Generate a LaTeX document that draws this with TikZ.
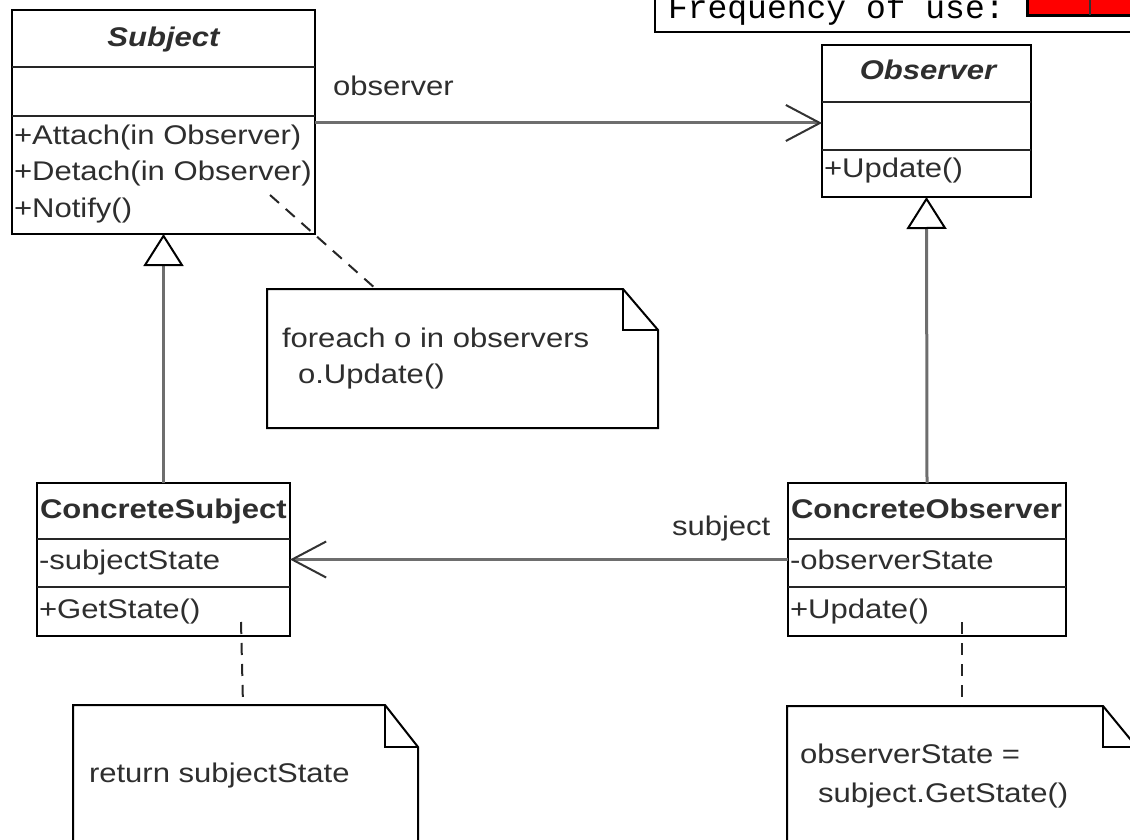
\documentclass[tikz,border=0pt]{standalone}
\usepackage{fontspec}
\setmainfont{Liberation Sans}[FakeStretch=1.15]
\newfontfamily\pixfont{Liberation Mono}
\usetikzlibrary{arrows.meta,calc}
\definecolor{txt}{HTML}{2E2E2E}
\definecolor{conn}{HTML}{6E6E6E}
\begin{document}
\begin{tikzpicture}[x=1pt,y=-1pt,
  every node/.style={font=\fontsize{27}{32}\selectfont, text=txt, inner sep=0pt, outer sep=0pt},
  classbox/.style={draw=black, line width=2pt, fill=white, anchor=north west},
  divider/.style={draw=black!85, line width=2.5pt},
  lbl/.style={anchor=base west},
  assoc/.style={draw=conn, line width=3pt, -{Straight Barb[length=34pt,width=36pt,line width=2pt,color=black!80]}},
  inh/.style={draw=conn, line width=3pt, -{Triangle[length=32pt,width=40pt,line width=2pt,color=black,fill=white]}},
  notelink/.style={draw=black!85, line width=2pt, dash pattern=on 12pt off 9pt},
  notebox/.style={draw=black, line width=2pt, fill=white, line join=miter}
]
\useasboundingbox (0,0) rectangle (1130,840);
\clip (0,0) rectangle (1130,840);

% Frequency of use box (cut off at top)
\draw[line width=2pt, fill=white] (655,-10) -- (655,32) -- (1140,32);
\node[lbl, font=\pixfont\fontsize{33}{33}\selectfont, text=black] (freq) at (668,19) {Frequency of use:};
\fill[red] (1027,-5) rectangle (1135,15);
\draw[black, line width=3pt] (1027,-5) -- (1027,16) -- (1135,16);
\draw[black!80, line width=2pt] (1090,-5) -- (1090,15);

% Subject
\node[classbox, minimum width=303pt, minimum height=224pt] (subj) at (12,10) {};
\draw[divider] (subj.west |- 0,67) -- (subj.east |- 0,67);
\draw[divider] (subj.west |- 0,116) -- (subj.east |- 0,116);
\node[anchor=base, font=\fontsize{27}{32}\selectfont\bfseries\itshape] (subjT) at (163.5,47) {Subject};
\node[lbl] (sm1) at (14,145) {+Attach(in Observer)};
\node[lbl] (sm2) at (14,181) {+Detach(in Observer)};
\node[lbl] (sm3) at (14,217) {+Notify()};

% Observer
\node[classbox, minimum width=209pt, minimum height=152pt] (obs) at (822,45) {};
\draw[divider] (obs.west |- 0,102) -- (obs.east |- 0,102);
\draw[divider] (obs.west |- 0,150) -- (obs.east |- 0,150);
\node[anchor=base, font=\fontsize{27}{32}\selectfont\bfseries\itshape] (obsT) at (928,80) {Observer};
\node[lbl] (om1) at (824,178) {+Update()};

% ConcreteSubject
\node[classbox, minimum width=253pt, minimum height=153pt] (cs) at (37,483) {};
\draw[divider] (cs.west |- 0,539) -- (cs.east |- 0,539);
\draw[divider] (cs.west |- 0,587) -- (cs.east |- 0,587);
\node[lbl, font=\fontsize{27}{32}\selectfont\bfseries] (csT) at (40,518) {ConcreteSubject};
\node[lbl] (csa) at (39,569) {-subjectState};
\node[lbl] (csm) at (39,618) {+GetState()};

% ConcreteObserver
\node[classbox, minimum width=278pt, minimum height=153pt] (co) at (788,483) {};
\draw[divider] (co.west |- 0,539) -- (co.east |- 0,539);
\draw[divider] (co.west |- 0,587) -- (co.east |- 0,587);
\node[lbl, font=\fontsize{27}{32}\selectfont\bfseries] (coT) at (791,518) {ConcreteObserver};
\node[lbl] (coa) at (790,569) {-observerState};
\node[lbl] (com) at (790,618) {+Update()};

% Associations
\coordinate (oa) at ($(obs.west)+(0,2)$);
\draw[assoc] (subj.east |- oa) -- (oa);
\node[lbl] (obsL) at (333,96) {observer};
\draw[assoc] (co.west) -- (co.west -| cs.east);
\node[lbl] (subL) at (672,535) {subject};

% Generalizations
\draw[inh] (cs.north) -- (subj.south);
\draw[inh] (co.north) -- (obs.south);

% Note 1
\node[anchor=north west, minimum width=391pt, minimum height=139pt] (n1) at (267,289) {};
\draw[notebox] (267,289) -- (623,289) -- (658,330) -- (658,428) -- (267,428) -- cycle;
\draw[black, line width=2pt] (623,289) -- (623,330) -- (658,330);
\node[lbl] (n1a) at (282,347) {foreach o in observers};
\node[lbl] (n1b) at (298,383) {o.Update()};
\coordinate (n1s) at (270,195);
\draw[notelink] (n1s) -- (n1.north west -| 376,0);

% Note 2
\node[anchor=north west, minimum width=345pt, minimum height=150pt] (n2) at (73,705) {};
\draw[notebox] (73,705) -- (385,705) -- (418,747) -- (418,860) -- (73,860) -- cycle;
\draw[black, line width=2pt] (385,705) -- (385,747) -- (418,747);
\node[lbl] (n2a) at (89,782) {return subjectState};
\coordinate (n2s) at (241,622);
\draw[notelink] (n2s) -- (n2.north west -| 243,0);

% Note 3
\node[anchor=north west, minimum width=360pt, minimum height=150pt] (n3) at (787,706) {};
\draw[notebox] (787,706) -- (1103,706) -- (1140,751) -- (1140,860) -- (787,860) -- cycle;
\draw[black, line width=2pt] (1103,706) -- (1103,747) -- (1140,747);
\node[lbl] (n3a) at (800,763) {observerState =};
\node[lbl] (n3b) at (818,802) {subject.GetState()};
\coordinate (n3s) at (962,622);
\draw[notelink] (n3s) -- (n3.north west -| 962,0);
\end{tikzpicture}
\end{document}
